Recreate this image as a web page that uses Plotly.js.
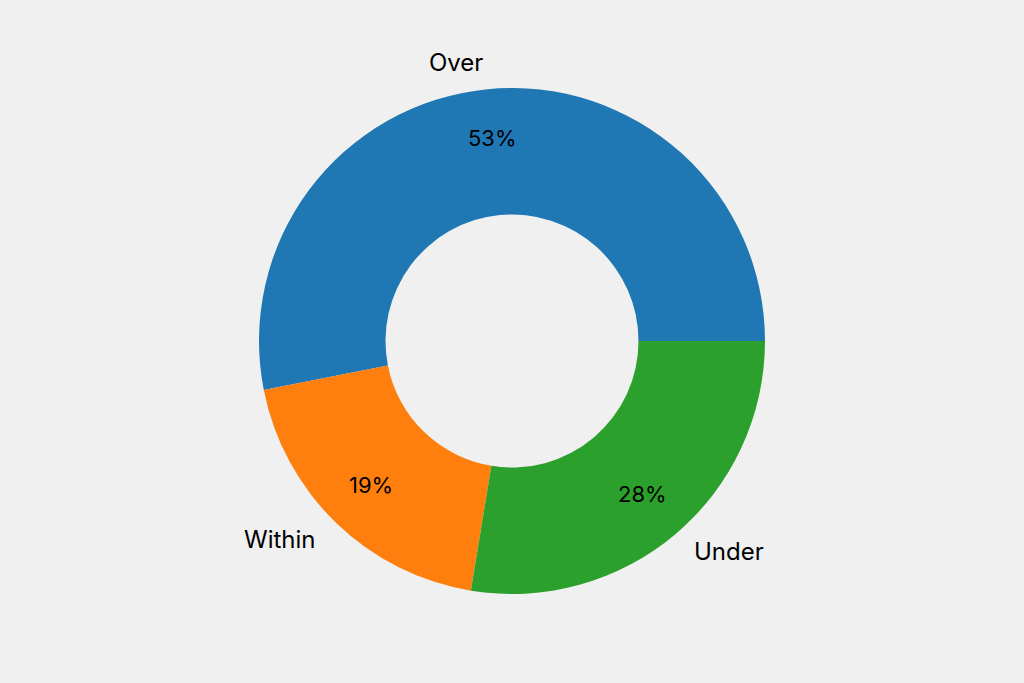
<!DOCTYPE html>
<html>
<head>
<meta charset="utf-8">
<script src="https://cdn.plot.ly/plotly-3.0.1.min.js"></script>
<style>
  body { margin: 0; background: #f0f0f0; }
  #chart { width: 1024px; height: 683px; }
</style>
</head>
<body>
<div id="chart"></div>
<script>
// donut with labels outside, percentages inside the ring
const labels = ["Over", "Within", "Under"];
const values = [53.1, 19.3, 27.6];
const colors = ["#1f77b4", "#ff7f0e", "#2ca02c"];

const W = 1024, H = 683;
const cx = 512, cy = 342, R = 253;   // pixel centre / radius (from bottom)
const labelDist = 1.1, pctDist = 0.8;
const textLift = 1.5;                // annotations sit a touch low otherwise
const font = "Inter, 'DejaVu Sans', sans-serif";

// place the text like matplotlib does: start at 3 o'clock, counterclockwise
let total = values.reduce((a, b) => a + b, 0);
let annotations = [];
let start = 0;
values.forEach((v, i) => {
    let mid = (start + v / total * 180) * Math.PI / 180;
    start += v / total * 360;
    let c = Math.cos(mid), s = Math.sin(mid);
    annotations.push({
        xref: "paper", yref: "paper",
        x: (cx + labelDist * R * c) / W, y: (cy + textLift + labelDist * R * s) / H,
        xanchor: c < 0 ? "right" : "left", yanchor: "middle",
        text: labels[i], showarrow: false,
        font: { family: font, size: 24, color: "#000" }
    });
    annotations.push({
        xref: "paper", yref: "paper",
        x: (cx + pctDist * R * c) / W, y: (cy + textLift + pctDist * R * s) / H,
        xanchor: "center", yanchor: "middle",
        text: Math.round(v / total * 100) + "%", showarrow: false,
        font: { family: font, size: 22, color: "#000" }
    });
});

// plotly's counterclockwise mode puts the first slice clockwise of `rotation`,
// so back it off by the first slice to make it start at 3 o'clock
let trace = {
    type: "pie",
    labels: labels,
    values: values,
    hole: 0.5,
    sort: false,
    direction: "counterclockwise",
    rotation: 90 - values[0] / total * 360,
    textinfo: "none",
    marker: { colors: colors, line: { width: 0 } },
    domain: { x: [(cx - R) / W, (cx + R) / W], y: [(cy - R) / H, (cy + R) / H] },
    hoverinfo: "label+percent"
};

let layout = {
    width: W, height: H,
    margin: { l: 0, r: 0, t: 0, b: 0 },
    paper_bgcolor: "#f0f0f0",
    plot_bgcolor: "#f0f0f0",
    showlegend: false,
    annotations: annotations
};

Plotly.newPlot("chart", [trace], layout, { displayModeBar: false });
</script>
</body>
</html>
